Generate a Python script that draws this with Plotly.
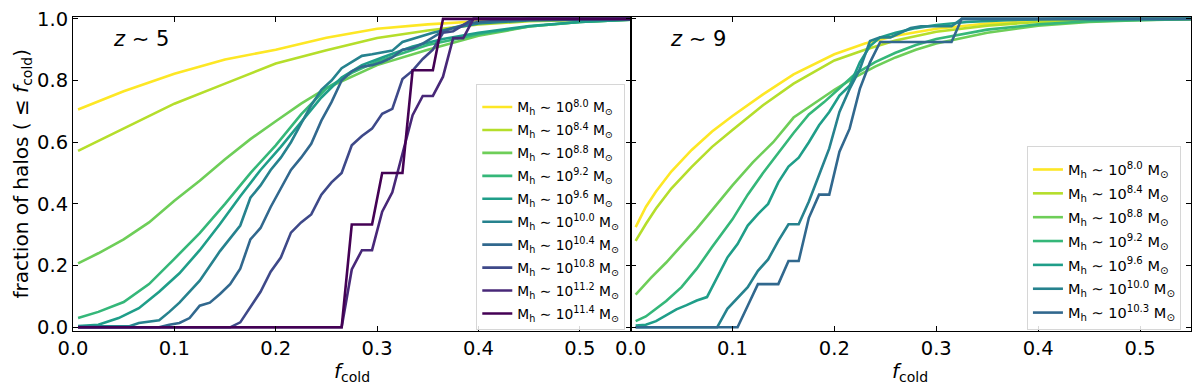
import plotly.graph_objects as go

# ---------------- data: z ~ 5 (left panel) ----------------
L_labels = ["8.0", "8.4", "8.8", "9.2", "9.6", "10.0", "10.4", "10.8", "11.2", "11.4"]

L80_x = [0.005, 0.05, 0.1, 0.15, 0.2, 0.25, 0.3, 0.35, 0.4, 0.45, 0.5, 0.55]
L80_y = [0.706, 0.765, 0.822, 0.868, 0.9, 0.939, 0.968, 0.982, 0.992, 0.997, 0.999, 1.0]

L84_x = [0.005, 0.05, 0.1, 0.15, 0.2, 0.25, 0.3, 0.35, 0.4, 0.45, 0.5, 0.55]
L84_y = [0.572, 0.645, 0.725, 0.79, 0.855, 0.898, 0.938, 0.962, 0.982, 0.992, 0.997, 1.0]

L88_x = [0.005, 0.025, 0.05, 0.075, 0.1, 0.125, 0.15, 0.175, 0.2, 0.225, 0.25, 0.3, 0.35, 0.4, 0.45, 0.5, 0.55]
L88_y = [0.207, 0.24, 0.285, 0.34, 0.41, 0.475, 0.545, 0.61, 0.668, 0.725, 0.775, 0.85, 0.9, 0.945, 0.975, 0.99, 0.997]

L92_x = [0.005, 0.025, 0.05, 0.075, 0.1, 0.125, 0.15, 0.175, 0.2, 0.225, 0.25, 0.275, 0.3, 0.35, 0.4, 0.45, 0.5, 0.55]
L92_y = [0.03, 0.05, 0.082, 0.14, 0.222, 0.305, 0.4, 0.5, 0.59, 0.69, 0.775, 0.825, 0.862, 0.915, 0.95, 0.975, 0.99, 0.997]

L96_x = [0.005, 0.025, 0.045, 0.065, 0.085, 0.105, 0.125, 0.145, 0.165, 0.185, 0.205, 0.225, 0.245,
         0.265, 0.285, 0.305, 0.335, 0.365, 0.4, 0.45, 0.5, 0.55]
L96_y = [0.004, 0.008, 0.03, 0.062, 0.115, 0.175, 0.25, 0.335, 0.425, 0.51, 0.585, 0.665, 0.745,
         0.81, 0.85, 0.875, 0.91, 0.935, 0.955, 0.977, 0.99, 0.997]

L100_x = [0.005, 0.055, 0.065, 0.085, 0.095, 0.105, 0.125, 0.145, 0.165, 0.175, 0.185, 0.195, 0.205,
          0.215, 0.225, 0.235, 0.245, 0.255, 0.265, 0.275, 0.285, 0.295, 0.305, 0.315, 0.325, 0.335,
          0.345, 0.355, 0.375, 0.4, 0.45, 0.5, 0.55]
L100_y = [0.003, 0.003, 0.014, 0.023, 0.05, 0.08, 0.151, 0.247, 0.33, 0.42, 0.46, 0.51, 0.55,
          0.6, 0.66, 0.72, 0.77, 0.8, 0.84, 0.86, 0.88, 0.885, 0.89, 0.897, 0.925, 0.935,
          0.945, 0.955, 0.97, 0.985, 0.995, 0.998, 1.0]

L104_x = [0.005, 0.085, 0.095, 0.105, 0.115, 0.125, 0.135, 0.145, 0.155, 0.165, 0.175, 0.185, 0.195,
          0.205, 0.215, 0.225, 0.235, 0.245, 0.255, 0.265, 0.275, 0.285, 0.295, 0.305, 0.315, 0.325,
          0.335, 0.345, 0.355, 0.365, 0.375, 0.39, 0.4, 0.45, 0.55]
L104_y = [0.0, 0.0, 0.008, 0.014, 0.03, 0.07, 0.08, 0.108, 0.14, 0.19, 0.285, 0.322, 0.39,
          0.45, 0.51, 0.55, 0.595, 0.67, 0.73, 0.8, 0.83, 0.845, 0.85, 0.86, 0.875, 0.9,
          0.905, 0.92, 0.94, 0.96, 0.97, 0.985, 0.99, 1.0, 1.0]

L108_x = [0.005, 0.155, 0.165, 0.175, 0.185, 0.195, 0.205, 0.215, 0.225, 0.235, 0.245, 0.255, 0.265,
          0.275, 0.285, 0.295, 0.305, 0.315, 0.325, 0.335, 0.345, 0.355, 0.365, 0.375, 0.385, 0.395, 0.55]
L108_y = [0.0, 0.0, 0.016, 0.066, 0.115, 0.18, 0.226, 0.307, 0.34, 0.366, 0.43, 0.47, 0.5,
          0.59, 0.62, 0.644, 0.692, 0.708, 0.805, 0.832, 0.87, 0.9, 0.955, 0.96, 0.98, 1.0, 1.0]

L112_x = [0.005, 0.265, 0.275, 0.285, 0.295, 0.305, 0.315, 0.325, 0.335, 0.345, 0.355, 0.365,
          0.375, 0.385, 0.395, 0.55]
L112_y = [0.0, 0.0, 0.1875, 0.25, 0.25, 0.375, 0.4375, 0.5625, 0.6875, 0.75, 0.75, 0.8125,
          0.9375, 0.9375, 1.0, 1.0]

L114_x = [0.005, 0.265, 0.275, 0.285, 0.295, 0.305, 0.315, 0.325, 0.335, 0.345, 0.355, 0.365, 0.55]
L114_y = [0.0, 0.0, 0.3333, 0.3333, 0.3333, 0.5, 0.5, 0.5, 0.8333, 0.8333, 0.8333, 1.0, 1.0]

# ---------------- data: z ~ 9 (right panel) ----------------
R_labels = ["8.0", "8.4", "8.8", "9.2", "9.6", "10.0", "10.3"]

R80_x = [0.005, 0.015, 0.025, 0.04, 0.06, 0.08, 0.1, 0.13, 0.16, 0.2, 0.23, 0.26, 0.3, 0.35, 0.4, 0.45, 0.5, 0.55]
R80_y = [0.325, 0.39, 0.44, 0.505, 0.575, 0.635, 0.685, 0.755, 0.82, 0.885, 0.92, 0.945, 0.968, 0.985, 0.993, 0.997, 0.999, 1.0]

R84_x = [0.005, 0.015, 0.025, 0.04, 0.06, 0.08, 0.1, 0.13, 0.16, 0.2, 0.23, 0.26, 0.3, 0.35, 0.4, 0.45, 0.5, 0.55]
R84_y = [0.28, 0.335, 0.385, 0.45, 0.52, 0.585, 0.64, 0.72, 0.79, 0.865, 0.9, 0.93, 0.958, 0.978, 0.99, 0.996, 0.999, 1.0]

R88_x = [0.005, 0.02, 0.035, 0.05, 0.065, 0.08, 0.1, 0.12, 0.14, 0.16, 0.18, 0.2, 0.22, 0.24, 0.26, 0.28,
         0.3, 0.35, 0.4, 0.45, 0.5, 0.55]
R88_y = [0.106, 0.16, 0.21, 0.265, 0.32, 0.38, 0.46, 0.535, 0.6, 0.68, 0.725, 0.77, 0.81, 0.845, 0.875, 0.9,
         0.92, 0.955, 0.978, 0.99, 0.996, 0.999]

R92_x = [0.005, 0.015, 0.025, 0.035, 0.05, 0.065, 0.08, 0.1, 0.115, 0.13, 0.145, 0.16, 0.175, 0.19, 0.205,
         0.22, 0.24, 0.26, 0.28, 0.3, 0.35, 0.4, 0.45, 0.5, 0.55]
R92_y = [0.02, 0.035, 0.06, 0.085, 0.13, 0.19, 0.26, 0.35, 0.43, 0.5, 0.565, 0.63, 0.69, 0.73, 0.775,
         0.82, 0.86, 0.89, 0.915, 0.935, 0.965, 0.982, 0.992, 0.997, 1.0]

R96_x = [0.005, 0.015, 0.025, 0.035, 0.045, 0.055, 0.065, 0.075, 0.085, 0.095, 0.105, 0.115, 0.125, 0.135,
         0.145, 0.155, 0.165, 0.175, 0.185, 0.195, 0.205, 0.215, 0.225, 0.235, 0.245, 0.26, 0.28, 0.3,
         0.33, 0.37, 0.42, 0.55]
R96_y = [0.006, 0.008, 0.02, 0.04, 0.058, 0.072, 0.087, 0.098, 0.16, 0.226, 0.27, 0.33, 0.367, 0.4,
         0.47, 0.521, 0.55, 0.6, 0.655, 0.698, 0.751, 0.783, 0.859, 0.912, 0.94, 0.955, 0.97, 0.98,
         0.99, 0.996, 1.0, 1.0]

R100_x = [0.005, 0.085, 0.095, 0.105, 0.115, 0.125, 0.135, 0.145, 0.155, 0.165, 0.175, 0.185, 0.195,
          0.205, 0.215, 0.225, 0.235, 0.245, 0.255, 0.265, 0.275, 0.285, 0.315, 0.325, 0.55]
R100_y = [0.0, 0.0, 0.06, 0.095, 0.13, 0.183, 0.22, 0.28, 0.334, 0.334, 0.408, 0.494, 0.58,
          0.698, 0.773, 0.837, 0.928, 0.94, 0.94, 0.955, 0.97, 0.976, 0.976, 1.0, 1.0]

R103_x = [0.005, 0.105, 0.115, 0.125, 0.135, 0.145, 0.155, 0.165, 0.175, 0.185, 0.195, 0.205,
          0.215, 0.225, 0.235, 0.245, 0.315, 0.325, 0.55]
R103_y = [0.0, 0.0, 0.07, 0.14, 0.14, 0.14, 0.215, 0.215, 0.355, 0.43, 0.43, 0.569,
          0.644, 0.773, 0.859, 0.925, 0.925, 1.0, 1.0]

x_ticks = [0.0, 0.1, 0.2, 0.3, 0.4, 0.5]
y_ticks = [0.0, 0.2, 0.4, 0.6, 0.8, 1.0]

# viridis-like colours, one per mass bin
colors = ["#fde725", "#b5de2b", "#6ece58", "#35b779", "#1f9e89",
          "#26828e", "#31688e", "#3e4989", "#482878", "#440154"]

left_series = [(L80_x, L80_y), (L84_x, L84_y), (L88_x, L88_y), (L92_x, L92_y), (L96_x, L96_y),
               (L100_x, L100_y), (L104_x, L104_y), (L108_x, L108_y), (L112_x, L112_y), (L114_x, L114_y)]
right_series = [(R80_x, R80_y), (R84_x, R84_y), (R88_x, R88_y), (R92_x, R92_y), (R96_x, R96_y),
                (R100_x, R100_y), (R103_x, R103_y)]

FONT = "DejaVu Sans"
LW = 2.6


def label(m):
    return "M<sub>h</sub> ∼ 10<sup>" + m + "</sup> M<sub>⊙</sub>"


fig = go.Figure()
for i, ((xs, ys), m) in enumerate(zip(left_series, L_labels)):
    fig.add_trace(go.Scatter(x=xs, y=ys, mode="lines", name=label(m),
                             line=dict(color=colors[i], width=LW),
                             xaxis="x", yaxis="y", legend="legend",
                             legendgroup="L" + str(i)))
for i, ((xs, ys), m) in enumerate(zip(right_series, R_labels)):
    fig.add_trace(go.Scatter(x=xs, y=ys, mode="lines", name=label(m),
                             line=dict(color=colors[i], width=LW),
                             xaxis="x2", yaxis="y2", legend="legend2",
                             legendgroup="R" + str(i)))

axis_common = dict(showline=True, linecolor="black", linewidth=1, mirror="ticks",
                   ticks="inside", ticklen=5, tickwidth=1, tickcolor="black",
                   showgrid=False, zeroline=False,
                   tickfont=dict(family=FONT, size=19.5, color="black"))
split = 0.4987
yr = [-0.012, 1.006]
legend_common = dict(yanchor="bottom", xanchor="right", y=0.003,
                     bgcolor="rgba(255,255,255,0.85)", bordercolor="#d6d6d6", borderwidth=1,
                     tracegroupgap=2, itemwidth=30,
                     title=dict(text=" ", font=dict(size=5)))

xt = ["%.1f" % v for v in x_ticks]
yt = ["%.1f" % v for v in y_ticks]
title_font = dict(family=FONT, size=20, color="black")

fig.update_layout(
    width=1200, height=387,
    margin=dict(l=73, r=8, t=14, b=56),
    paper_bgcolor="white", plot_bgcolor="white",
    font=dict(family=FONT, color="black"),
    xaxis=dict(domain=[0, split], range=[0, 0.55], tickvals=x_ticks, ticktext=xt,
               anchor="y", **axis_common),
    yaxis=dict(domain=[0, 1], range=yr, tickvals=y_ticks, ticktext=yt, anchor="x", **axis_common),
    xaxis2=dict(domain=[split, 1], range=[0, 0.55], tickvals=x_ticks, ticktext=xt,
                anchor="y2", **axis_common),
    yaxis2=dict(domain=[0, 1], range=yr, tickvals=y_ticks, showticklabels=False, anchor="x2", **axis_common),
    legend=dict(x=0.494, font=dict(family=FONT, size=13.8, color="black"), **legend_common),
    legend2=dict(x=0.991, font=dict(family=FONT, size=14.5, color="black"), **legend_common),
    annotations=[
        dict(text="<i>z</i> ∼ 5", x=0.037, y=0.935, xref="x", yref="y", xanchor="left", yanchor="middle",
             showarrow=False, font=dict(family=FONT, size=21, color="black")),
        dict(text="<i>z</i> ∼ 9", x=0.037, y=0.935, xref="x2", yref="y2", xanchor="left", yanchor="middle",
             showarrow=False, font=dict(family=FONT, size=21, color="black")),
        dict(text="<i>f</i><sub>cold</sub>", x=0.2493, y=-0.082, xref="paper", yref="paper",
             xanchor="center", yanchor="top", showarrow=False, font=title_font),
        dict(text="<i>f</i><sub>cold</sub>", x=0.749, y=-0.082, xref="paper", yref="paper",
             xanchor="center", yanchor="top", showarrow=False, font=title_font),
        dict(text="fraction of halos ( ≤ <i>f</i><sub>cold</sub>)", x=-0.0456, y=0.5016,
             xref="paper", yref="paper", xanchor="center", yanchor="middle", textangle=-90,
             showarrow=False, font=title_font),
    ],
)

# remove the page's default body margin so the 1200x387 figure fills the window exactly
fig.write_html("out.html", config={"displayModeBar": False},
               post_script="document.body.style.margin='0';document.body.style.overflow='hidden';")
